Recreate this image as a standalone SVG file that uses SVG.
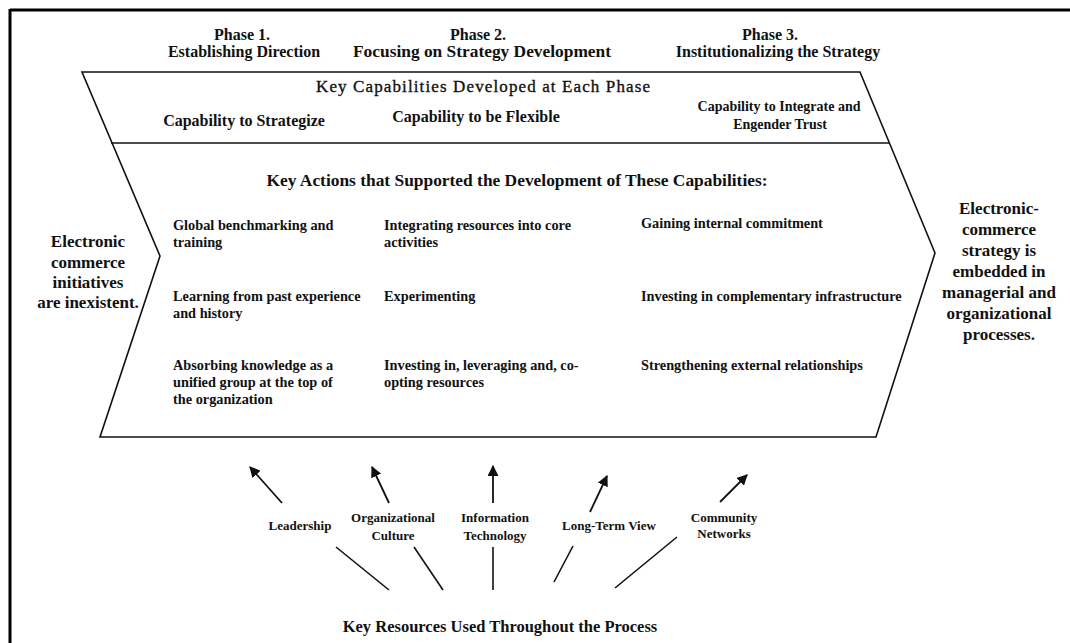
<svg xmlns="http://www.w3.org/2000/svg" width="1070" height="643" viewBox="0 0 1070 643">
<defs>
<marker id="ah" viewBox="0 0 10 10" refX="9" refY="5" markerWidth="11" markerHeight="11" markerUnits="userSpaceOnUse" orient="auto">
<path d="M0,0 L10,5 L0,10 Z" fill="#111"/>
</marker>
<style>
text{font-family:"Liberation Serif","Times New Roman",serif;fill:#111}
.ph{font-size:16px;font-weight:bold;text-anchor:middle}
.cap{font-size:16px;font-weight:bold;text-anchor:middle}
.cap3{font-size:14px;font-weight:bold;text-anchor:middle}
.hd{font-size:16px;font-weight:bold;text-anchor:middle}
.act{font-size:14.3px;font-weight:bold}
.side{font-size:17px;font-weight:bold;text-anchor:middle}
.res{font-size:13px;font-weight:bold;text-anchor:middle}
.ln{stroke:#111;stroke-width:1.6;fill:none}
.ar{stroke:#111;stroke-width:1.8;fill:none;marker-end:url(#ah)}
</style>
</defs>
<rect width="1070" height="643" fill="#fff"/>
<g id="frame">
<line x1="10" y1="10" x2="1070" y2="10" stroke="#000" stroke-width="3"/>
<line x1="10" y1="9" x2="10" y2="643" stroke="#000" stroke-width="3"/>
</g>
<g id="phases">
<text class="ph" x="242" y="40">Phase 1.</text>
<text class="ph" x="244" y="57">Establishing Direction</text>
<text class="ph" x="478" y="40">Phase 2.</text>
<text class="ph" x="482" y="57" textLength="258" lengthAdjust="spacingAndGlyphs">Focusing on Strategy Development</text>
<text class="ph" x="770" y="40">Phase 3.</text>
<text class="ph" x="778" y="57">Institutionalizing the Strategy</text>
</g>
<g id="chevron">
<path class="ln" d="M82,72 L860,72 L935,253 L876,437 L100,437 L160,256 Z"/>
<line class="ln" x1="111" y1="143" x2="889" y2="143"/>
</g>
<g id="capabilities">
<text x="483" y="92" style="font-size:17px;text-anchor:middle;stroke:#111;stroke-width:0.35" textLength="334" lengthAdjust="spacing">Key Capabilities Developed at Each Phase</text>
<text class="cap" x="244" y="126">Capability to Strategize</text>
<text class="cap" x="476" y="122">Capability to be Flexible</text>
<text class="cap3" x="779" y="111">Capability to Integrate and</text>
<text class="cap3" x="780" y="129">Engender Trust</text>
</g>
<g id="actions">
<text class="hd" x="517" y="186" textLength="501" lengthAdjust="spacingAndGlyphs">Key Actions that Supported the Development of These Capabilities:</text>
<text class="act" x="173" y="230">Global benchmarking and</text>
<text class="act" x="173" y="247">training</text>
<text class="act" x="173" y="301">Learning from past experience</text>
<text class="act" x="173" y="318">and history</text>
<text class="act" x="173" y="370">Absorbing knowledge as a</text>
<text class="act" x="173" y="387">unified group at the top of</text>
<text class="act" x="173" y="404">the organization</text>
<text class="act" x="384" y="230">Integrating resources into core</text>
<text class="act" x="384" y="247">activities</text>
<text class="act" x="384" y="301">Experimenting</text>
<text class="act" x="384" y="370">Investing in, leveraging and, co-</text>
<text class="act" x="384" y="387">opting resources</text>
<text class="act" x="641" y="228">Gaining internal commitment</text>
<text class="act" x="641" y="301">Investing in complementary infrastructure</text>
<text class="act" x="641" y="370">Strengthening external relationships</text>
</g>
<g id="start">
<text class="side" x="88" y="247">Electronic</text>
<text class="side" x="88" y="268">commerce</text>
<text class="side" x="88" y="288">initiatives</text>
<text class="side" x="88" y="308">are inexistent.</text>
</g>
<g id="end">
<text class="side" x="999" y="214">Electronic-</text>
<text class="side" x="999" y="235">commerce</text>
<text class="side" x="999" y="256">strategy is</text>
<text class="side" x="999" y="277">embedded in</text>
<text class="side" x="999" y="298">managerial and</text>
<text class="side" x="999" y="319">organizational</text>
<text class="side" x="999" y="340">processes.</text>
</g>
<g id="resources">
<text class="res" x="300" y="530">Leadership</text>
<text class="res" x="393" y="522">Organizational</text>
<text class="res" x="393" y="540">Culture</text>
<text class="res" x="495" y="522">Information</text>
<text class="res" x="495" y="540">Technology</text>
<text class="res" x="609" y="530">Long-Term View</text>
<text class="res" x="724" y="522">Community</text>
<text class="res" x="724" y="538">Networks</text>
<text x="500" y="632" style="font-size:16.5px;font-weight:bold;text-anchor:middle">Key Resources Used Throughout the Process</text>
</g>
<g id="connectors">
<line class="ar" x1="282" y1="503" x2="250" y2="467"/>
<line class="ar" x1="389" y1="503" x2="372" y2="467"/>
<line class="ar" x1="493" y1="503" x2="493" y2="466"/>
<line class="ar" x1="590" y1="512" x2="607" y2="476"/>
<line class="ar" x1="720" y1="502" x2="747" y2="475"/>
<line class="ln" x1="336" y1="547" x2="389" y2="590"/>
<line class="ln" x1="414" y1="547" x2="443" y2="590"/>
<line class="ln" x1="493" y1="547" x2="493" y2="590"/>
<line class="ln" x1="573" y1="546" x2="554" y2="582"/>
<line class="ln" x1="677" y1="537" x2="615" y2="588"/>
</g>
</svg>
